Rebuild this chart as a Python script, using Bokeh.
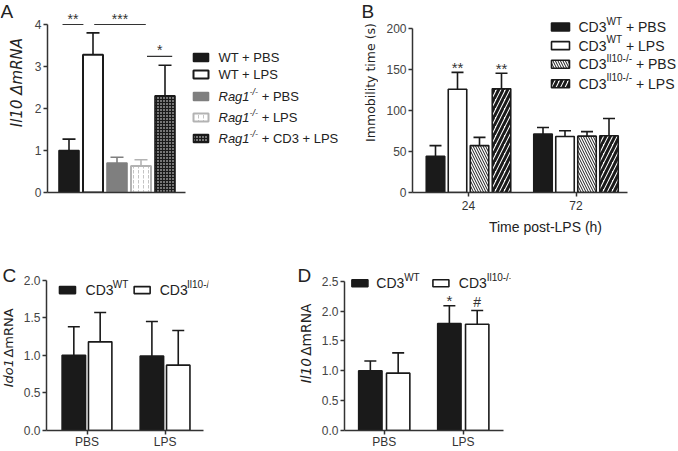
import math
from bokeh.plotting import figure
from bokeh.layouts import row, column
from bokeh.models import Range1d, FixedTicker, PrintfTickFormatter
from bokeh.core.properties import value
from bokeh.embed import file_html
from bokeh.resources import INLINE

FONT = "Liberation Sans"
ROT_FONT = "DejaVu Sans"
INK = "#1a1a1a"
AXIS = "#333333"
TICKTXT = "#444444"
TXT = "#222222"

# ---------------- data ----------------
# Panel A : Il10 mRNA
a_labels = ["WT + PBS", "WT + LPS", "Rag1-/- + PBS", "Rag1-/- + LPS", "Rag1-/- + CD3 + LPS"]
a_mean = [1.00, 3.28, 0.70, 0.63, 2.30]
a_sem = [0.27, 0.52, 0.14, 0.15, 0.73]
a_ticks = [0, 1, 2, 3, 4]
a_sig_x0 = [0.73, 2.05, 4.25]
a_sig_x1 = [1.60, 4.20, 5.30]
a_sig_y = [4.00, 4.00, 3.24]
a_sig_txt = ["**", "***", "*"]

# Panel B : immobility time
b_times = ["24", "72"]
b_labels = [("CD3", "WT", " + PBS"), ("CD3", "WT", " + LPS"),
            ("CD3", "Il10-/-", " + PBS"), ("CD3", "Il10-/-", " + LPS")]
b_wt_pbs = [44, 71]
b_wt_pbs_sem = [13, 8]
b_wt_lps = [125.5, 68]
b_wt_lps_sem = [20.5, 7]
b_ko_pbs = [57, 68.5]
b_ko_pbs_sem = [10, 5.5]
b_ko_lps = [126, 69]
b_ko_lps_sem = [19, 21]
b_sig = [["", ""], ["**", ""], ["", ""], ["**", ""]]
b_ticks = [0, 50, 100, 150, 200]

# Panel C : Ido1 mRNA
c_groups = ["PBS", "LPS"]
c_wt = [1.00, 0.99]
c_wt_sem = [0.38, 0.46]
c_ko = [1.18, 0.87]
c_ko_sem = [0.39, 0.46]
c_ticks = [0, 0.5, 1.0, 1.5, 2.0]

# Panel D : Il10 mRNA
d_groups = ["PBS", "LPS"]
d_wt = [1.00, 1.79]
d_wt_sem = [0.165, 0.30]
d_ko = [0.96, 1.78]
d_ko_sem = [0.34, 0.23]
d_wt_sig = ["", "*"]
d_ko_sig = ["", "#"]
d_ticks = [0, 0.5, 1.0, 1.5, 2.0, 2.5]

legend_cd = [("CD3", "WT"), ("CD3", "Il10-/-")]

# ---------------- helpers ----------------
WID = {' ': .278, '+': .584, '-': .333, '/': .278, '(': .333, ')': .333, '*': .389, '#': .556,
       '.': .278, 'A': .667, 'B': .667, 'C': .722, 'D': .722, 'I': .278, 'L': .556, 'N': .722,
       'P': .667, 'R': .722, 'S': .667, 'T': .611, 'W': .944, 'a': .556, 'b': .556, 'd': .556,
       'e': .556, 'g': .556, 'h': .556, 'i': .222, 'l': .222, 'm': .833, 'o': .556, 'p': .556,
       's': .5, 't': .278, 'y': .5, '\u0394': .668}
WID_DV = {' ': .318, '(': .390, ')': .390, '-': .361, '/': .337, 'A': .684, 'B': .686,
          'C': .698, 'D': .770, 'I': .295, 'L': .557, 'N': .748, 'P': .603, 'R': .695,
          'S': .635, 'T': .611, 'W': .989, 'a': .613, 'b': .635, 'd': .635, 'e': .615,
          'g': .635, 'h': .634, 'i': .278, 'l': .278, 'm': .974, 'o': .612, 'p': .635,
          's': .521, 't': .392, 'y': .592, '\u0394': .684}


def tw(s, size, table=WID):
    return sum(table.get(ch, .636 if table is WID_DV else .556) for ch in s) * size


def make_fig(x0, y0, w, h, L, R, T, B, xr=None, yr=None, axes=True):
    kw = dict(width=w, height=h, min_border_left=L, min_border_right=R,
              min_border_top=T, min_border_bottom=B, toolbar_location=None,
              output_backend="svg", tools="", title=None)
    fl, fr, ft, fb = x0 + L, x0 + w - R, y0 + T, y0 + h - B
    kw["x_range"] = xr if xr is not None else Range1d(fl, fr)
    kw["y_range"] = yr if yr is not None else Range1d(fb, ft)
    if not axes:
        kw.update(x_axis_type=None, y_axis_type=None)
    p = figure(**kw)
    p.outline_line_color = None
    p.background_fill_color = "white"
    p.border_fill_color = "white"
    p.grid.visible = False
    p.extra_x_ranges = {"px": Range1d(fl, fr)}
    p.extra_y_ranges = {"px": Range1d(fb, ft)}
    return p


def put_text(p, x, y, s, size, style="normal", color=TXT, align="left",
             baseline="middle", angle=0.0, font=FONT):
    p.text(x=[x], y=[y], text=[s], x_range_name="px", y_range_name="px",
           text_font=value(font), text_font_size=f"{size}px", text_font_style=style,
           text_color=color, text_align=align, text_baseline=baseline, angle=angle)


def rich(p, x, yc, pieces, color=TXT):
    for s, size, style, rs in pieces:
        lead = len(s) - len(s.lstrip(" "))
        x += tw(s[:lead], size)
        s = s.lstrip(" ")
        put_text(p, x, yc - rs, s, size, style, color)
        x += tw(s, size)


def vlabel(p, xc, yc, pieces, color=TXT, font=ROT_FONT, gap=0.5):
    total = sum(tw(s, size, WID_DV) for s, size, style in pieces) + gap * (len(pieces) - 1)
    y = yc + total / 2
    for s, size, style in pieces:
        lead = len(s) - len(s.lstrip(" "))
        if lead:
            y -= tw(s[:lead], size, WID_DV) + gap
        s = s.lstrip(" ")
        put_text(p, xc, y, s, size, style, color, angle=math.pi / 2, font=font)
        y -= tw(s, size, WID_DV)


def bars(p, xs, tops, sems, style, width, cap=12, err_color=INK, err_w=1.6):
    p.vbar(x=xs, top=tops, bottom=0, width=width, **style)
    ups = [t + e for t, e in zip(tops, sems)]
    p.segment(x0=xs, y0=tops, x1=xs, y1=ups, line_color=err_color, line_width=err_w)
    p.scatter(x=xs, y=ups, marker="dash", size=cap, line_color=err_color, line_width=err_w)
    return ups


def marks(p, xs, ys, txt, size, dy):
    p.text(x=xs, y=ys, text=txt, text_align="center", text_baseline="middle", y_offset=dy,
           text_font=value(FONT), text_font_size=f"{size}px", text_color=AXIS)


def swatch(p, cx, cy, w, h, style):
    p.rect(x=[cx], y=[cy], width=w, height=h, width_units="screen", height_units="screen",
           x_range_name="px", y_range_name="px", **style)


def style_axes(p, yticks, ybounds, xbounds, xticks=(), xlabels=None, yfmt=None, tick_out=4):
    for ax in (p.xaxis[0], p.yaxis[0]):
        ax.axis_line_color = AXIS
        ax.axis_line_width = 1.5
        ax.major_tick_line_color = AXIS
        ax.major_tick_line_width = 1.5
        ax.major_tick_in = 0
        ax.major_tick_out = tick_out
        ax.minor_tick_line_color = None
        ax.major_label_text_font = FONT
        ax.major_label_text_font_size = "12px"
        ax.major_label_text_color = TICKTXT
        ax.major_label_standoff = 2
    p.yaxis.ticker = FixedTicker(ticks=list(yticks))
    p.yaxis.bounds = ybounds
    if yfmt:
        p.yaxis.formatter = PrintfTickFormatter(format=yfmt)
    p.xaxis.ticker = FixedTicker(ticks=list(xticks))
    p.xaxis.bounds = xbounds
    if xlabels:
        p.xaxis.major_label_overrides = {i: t for i, t in zip(xticks, xlabels)}
        p.xaxis.major_label_text_color = "#333333"


def st(fill, line=INK, lw=1.6, hatch=None, hcolor=INK, hscale=6, hweight=1.0):
    d = dict(fill_color=fill, line_color=line, line_width=lw)
    if hatch:
        d.update(hatch_pattern=hatch, hatch_color=hcolor, hatch_scale=hscale, hatch_weight=hweight)
    return d


TOP_Y, TOP_H = 0, 240
BOT_Y, BOT_H = 240, 211
LETTER = 19

# ---------------- Panel A ----------------
labA = make_fig(0, TOP_Y, 30, TOP_H, 0, 0, 0, 0, axes=False)
put_text(labA, 0, -5, "A", LETTER, baseline="top")
vlabel(labA, 16, 112, [("Il10 \u0394mRNA", 15, "italic")])

A_X0, A_W, A_L, A_R, A_T, A_B = 30, 310, 17, 0, 4, 48
a_fl, a_fr, a_ft, a_fb = A_X0 + A_L, A_X0 + A_W - A_R, TOP_Y + A_T, TOP_Y + TOP_H - A_B
a_sp, a_c1 = 24.0, 68.5
a_ppu = (192 - 24) / 4.0
a_xr = Range1d(1 - (a_c1 - a_fl) / a_sp, 1 + (a_fr - a_c1) / a_sp)
a_yr = Range1d(0, (a_fb - a_ft) / a_ppu)
pA = make_fig(A_X0, TOP_Y, A_W, TOP_H, A_L, A_R, A_T, A_B, a_xr, a_yr)
style_axes(pA, a_ticks, (0, 4), (a_xr.start, 1 + (185 - a_c1) / a_sp))

a_styles = [
    st(INK, INK),
    st("white", INK, 2.0),
    st("#7f7f7f", "#7f7f7f"),
    st("white", "#b3b3b3", 2.0, ":", "#c4c4c4", 5, 1.0),
    st(INK, INK, 1.6, ".", "white", 3, 1.2),
]
a_errc = [INK, INK, "#7f7f7f", "#b3b3b3", INK]
a_bw = 20.0 / a_sp
for i in range(5):
    bars(pA, [i + 1], [a_mean[i]], [a_sem[i]], a_styles[i], a_bw, cap=13, err_color=a_errc[i])
pA.segment(x0=a_sig_x0, y0=a_sig_y, x1=a_sig_x1, y1=a_sig_y, line_color=AXIS, line_width=1.2)
marks(pA, [(u + v) / 2 for u, v in zip(a_sig_x0, a_sig_x1)], a_sig_y, a_sig_txt, 14, -6)

a_leg_y = [57, 74, 96, 117, 138]
for i, lab in enumerate(a_labels):
    swatch(pA, 200.5, a_leg_y[i], 15, 8, a_styles[i])
    if lab.startswith("Rag1-/-"):
        pieces = [("Rag1", 13, "italic", 0), ("-/-", 9, "italic", 5), (lab[7:], 13, "normal", 0)]
    else:
        pieces = [(lab, 13, "normal", 0)]
    rich(pA, 218, a_leg_y[i], pieces)

# ---------------- Panel B ----------------
labB = make_fig(340, TOP_Y, 38, TOP_H, 0, 0, 0, 0, axes=False)
put_text(labB, 361, -5, "B", LETTER, baseline="top")
vlabel(labB, 370, 116, [("Immobility time (s)", 12.5, "normal")])

B_X0, B_W, B_L, B_R, B_T, B_B = 378, 300, 34, 0, 0, 48
b_fl, b_fr, b_ft, b_fb = B_X0 + B_L, B_X0 + B_W - B_R, TOP_Y + B_T, TOP_Y + TOP_H - B_B
b_gs, b_c0 = 107.5, 468.0
b_ppu = (192 - 24) / 200.0
b_xr = Range1d(-(b_c0 - b_fl) / b_gs, (b_fr - b_c0) / b_gs)
b_yr = Range1d(0, (b_fb - b_ft) / b_ppu)
pB = make_fig(B_X0, TOP_Y, B_W, TOP_H, B_L, B_R, B_T, B_B, b_xr, b_yr)
style_axes(pB, b_ticks, (0, 200), (b_xr.start, (627 - b_c0) / b_gs), xticks=[0, 1], xlabels=b_times)
pB.xaxis.axis_label = "Time post-LPS (h)"
pB.xaxis.axis_label_text_font = FONT
pB.xaxis.axis_label_text_font_size = "14px"
pB.xaxis.axis_label_text_font_style = "normal"
pB.xaxis.axis_label_text_color = TXT
pB.xaxis.axis_label_standoff = 6
pB.xaxis.major_label_standoff = 4

b_styles = [
    st(INK, INK),
    st("white", INK, 1.6),
    st("white", INK, 1.6, "\\", INK, 5, 1.0),
    st("white", INK, 1.6, "/", INK, 9, 3.0),
]
b_means = [b_wt_pbs, b_wt_lps, b_ko_pbs, b_ko_lps]
b_sems = [b_wt_pbs_sem, b_wt_lps_sem, b_ko_pbs_sem, b_ko_lps_sem]
b_off = [-1.5, -0.5, 0.5, 1.5]
for k in range(4):
    xs = [g + b_off[k] * 22.0 / b_gs for g in range(2)]
    ups = bars(pB, xs, b_means[k], b_sems[k], b_styles[k], 18.5 / b_gs, cap=12)
    marks(pB, xs, ups, b_sig[k], 15, -5)

b_leg_y = [23, 42, 61, 81]
for k, (base, sup, rest) in enumerate(b_labels):
    swatch(pB, 560, b_leg_y[k], 18, 8, b_styles[k])
    rich(pB, 578, b_leg_y[k], [(base, 14, "normal", 0), (sup, 10, "normal", 6),
                               (rest, 14, "normal", 0)])

# ---------------- Panel C ----------------
labC = make_fig(0, BOT_Y, 20, BOT_H, 0, 0, 0, 0, axes=False)
put_text(labC, 2, 250, "C", LETTER, baseline="top")
vlabel(labC, 8, 356, [("Ido1", 13, "italic"), (" \u0394mRNA", 13, "normal")], gap=3.5)

C_X0, C_W, C_L, C_R, C_T, C_B = 20, 277, 22, 89, 16, 19
c_fl, c_fr, c_ft, c_fb = C_X0 + C_L, C_X0 + C_W - C_R, BOT_Y + C_T, BOT_Y + BOT_H - C_B
c_gs, c_c0 = 80.0, 83.5
c_ppu = (c_fb - 280) / 2.0
c_xr = Range1d(-(c_c0 - c_fl) / c_gs, (c_fr - c_c0) / c_gs)
c_yr = Range1d(0, (c_fb - c_ft) / c_ppu)
pC = make_fig(C_X0, BOT_Y, C_W, BOT_H, C_L, C_R, C_T, C_B, c_xr, c_yr)
style_axes(pC, c_ticks, (0, 2), (c_xr.start, (203 - c_c0) / c_gs), xticks=[0, 1],
           xlabels=c_groups, yfmt="%.1f")
pC.xaxis.major_label_standoff = 0

cd_styles = [st(INK, INK), st("white", INK, 1.6)]
bars(pC, [g - 13.5 / c_gs for g in range(2)], c_wt, c_wt_sem, cd_styles[0], 24 / c_gs)
bars(pC, [g + 13.5 / c_gs for g in range(2)], c_ko, c_ko_sem, cd_styles[1], 24 / c_gs)

c_leg_y = 290
for (cx, tx), (base, sup), sty in zip([(63.5, 82), (140, 158)], legend_cd, cd_styles):
    swatch(pC, cx, c_leg_y, 16, 7, sty)
    rich(pC, tx, c_leg_y, [(base, 14, "normal", 0), (sup, 10, "normal", 6)])

# ---------------- Panel D ----------------
labD = make_fig(297, BOT_Y, 21, BOT_H, 0, 0, 0, 0, axes=False)
put_text(labD, 297, 250, "D", LETTER, baseline="top")
vlabel(labD, 305, 351, [("Il10", 13.8, "italic"), (" \u0394mRNA", 13.8, "normal")], gap=3.5)

D_X0, D_W, D_L, D_R, D_T, D_B = 318, 360, 25, 168, 16, 19
d_fl, d_fr, d_ft, d_fb = D_X0 + D_L, D_X0 + D_W - D_R, BOT_Y + D_T, BOT_Y + BOT_H - D_B
d_gs, d_c0 = 79.5, 383.0
d_ppu = (d_fb - 281) / 2.5
d_xr = Range1d(-(d_c0 - d_fl) / d_gs, (d_fr - d_c0) / d_gs)
d_yr = Range1d(0, (d_fb - d_ft) / d_ppu)
pD = make_fig(D_X0, BOT_Y, D_W, BOT_H, D_L, D_R, D_T, D_B, d_xr, d_yr)
style_axes(pD, d_ticks, (0, 2.5), (d_xr.start, (503 - d_c0) / d_gs), xticks=[0, 1],
           xlabels=d_groups, yfmt="%.1f")
pD.xaxis.major_label_standoff = 0

xs_wt = [g - 14 / d_gs for g in range(2)]
xs_ko = [g + 14 / d_gs for g in range(2)]
up_wt = bars(pD, xs_wt, d_wt, d_wt_sem, cd_styles[0], 23.5 / d_gs)
up_ko = bars(pD, xs_ko, d_ko, d_ko_sem, cd_styles[1], 23.5 / d_gs)
marks(pD, xs_wt, up_wt, d_wt_sig, 15, -5)
marks(pD, xs_ko, up_ko, d_ko_sig, 14, -8)

d_leg_y = 283
for (cx, tx), (base, sup), sty in zip([(358.5, 375), (440, 458)], legend_cd, cd_styles):
    swatch(pD, cx, d_leg_y, 16, 7, sty)
    rich(pD, tx, d_leg_y, [(base, 14, "normal", 0), (sup, 10, "normal", 6)])

layout = column(row(labA, pA, labB, pB), row(labC, pC, labD, pD))
open("out.html", "w").write(file_html(layout, INLINE))
